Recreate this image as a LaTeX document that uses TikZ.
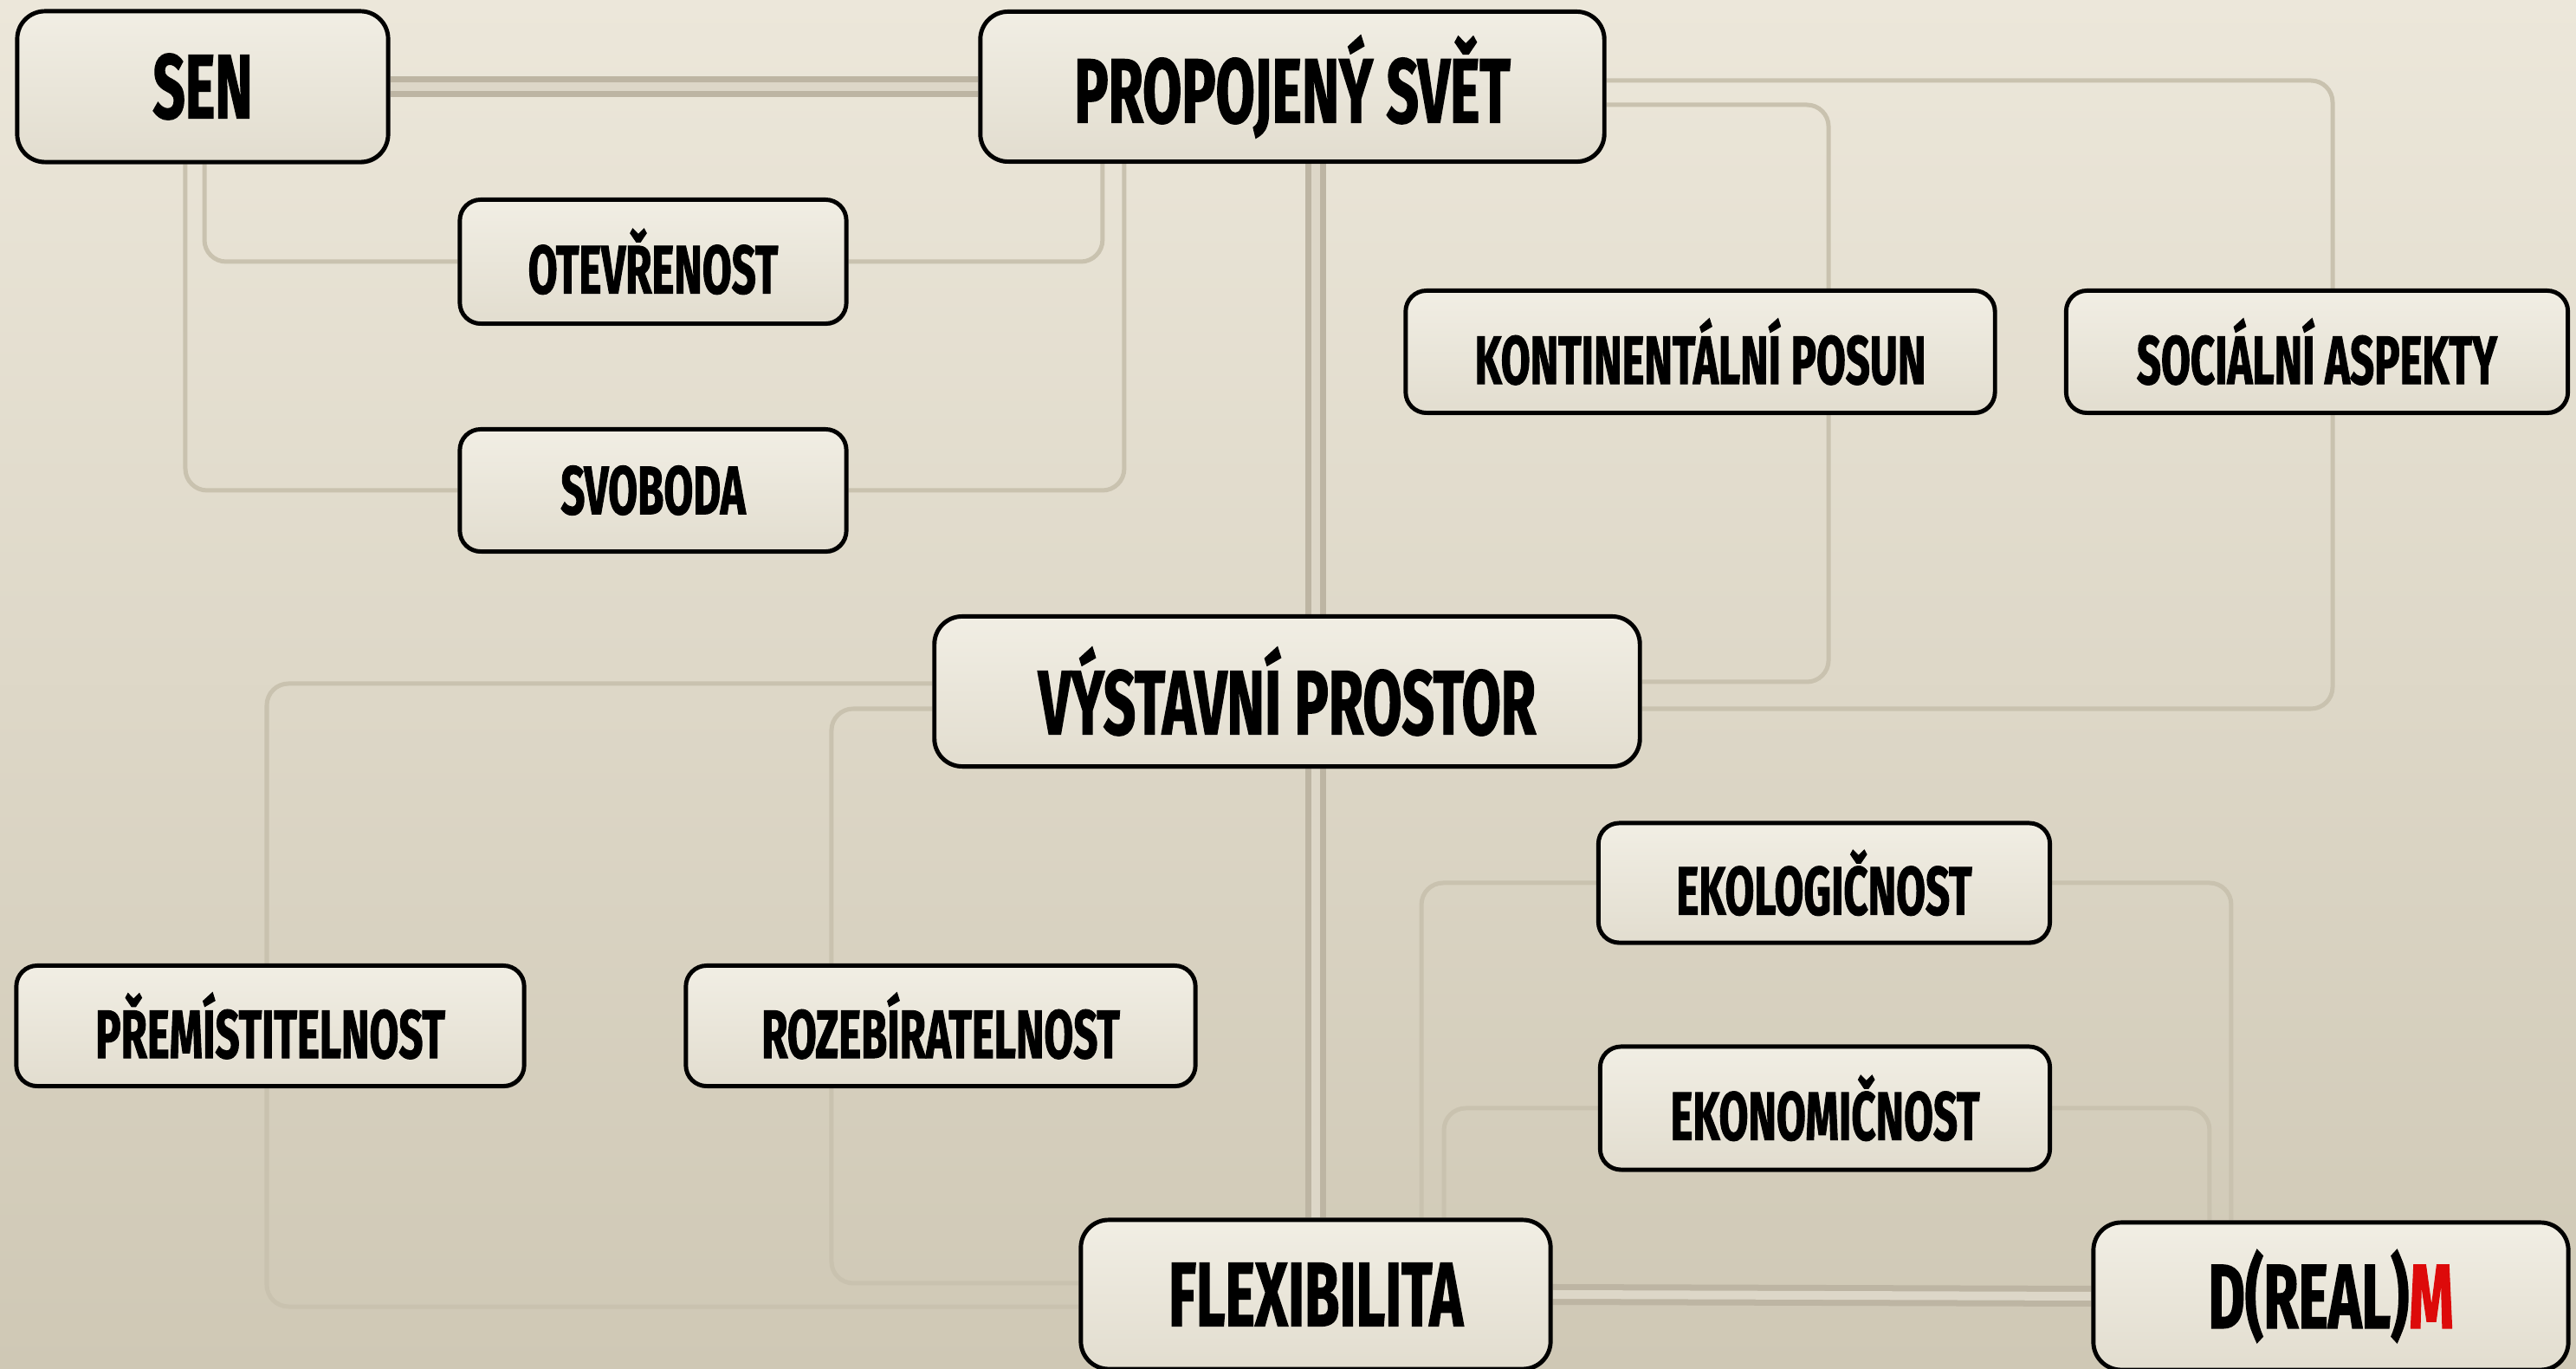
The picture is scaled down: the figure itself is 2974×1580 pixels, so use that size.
\documentclass[tikz,border=0pt]{standalone}
\usepackage{fontspec}
\newfontfamily\lbl{Fira Sans}[FakeStretch=0.62, FakeBold=1.2]
\usetikzlibrary{shadows}
\definecolor{bgtop}{HTML}{ECE7DA}
\definecolor{bgbot}{HTML}{CFC8B5}
\definecolor{boxtop}{HTML}{F1EEE4}
\definecolor{boxbot}{HTML}{E2DDCF}
\definecolor{linec}{HTML}{C9C2AF}
\definecolor{dblc}{HTML}{BDB5A3}
\definecolor{dblin}{HTML}{DDD7C8}
\definecolor{mred}{HTML}{DD0A0A}
\pgfdeclarelayer{bglayer}
\pgfdeclarelayer{linelayer}
\pgfsetlayers{bglayer,linelayer,main}
\begin{document}
\begin{tikzpicture}[x=0.01cm,y=-0.01cm,
  box/.style={draw=black, line width=1.4pt, top color=boxtop, bottom color=boxbot,
    inner sep=0pt, align=center,
    drop shadow={shadow xshift=0.012cm, shadow yshift=-0.025cm, opacity=0.55, fill=black}},
  bigbox/.style={box, rounded corners=0.32cm, font=\lbl\bfseries\fontsize{30}{32}\selectfont},
  smallbox/.style={box, rounded corners=0.24cm, font=\lbl\bfseries\fontsize{22.5}{24}\selectfont},
  conn/.style={draw=linec, line width=0.05cm, rounded corners=0.25cm},
  dbl/.style={draw=dblc, line width=0.07cm, double=dblin, double distance=0.1cm}
]
\useasboundingbox (0,0) rectangle (2974,1580);
\begin{pgfonlayer}{bglayer}
  \shade[top color=bgtop, bottom color=bgbot] (0,0) rectangle (2974,1580);
\end{pgfonlayer}

% main nodes
\node[bigbox, minimum width=4.28cm, minimum height=1.74cm] (SEN) at (234,100) {SEN};
\node[bigbox, minimum width=7.20cm, minimum height=1.73cm] (PROP) at (1492,100) {PROPOJENÝ SVĚT};
\node[bigbox, minimum width=8.14cm, minimum height=1.73cm] (VYST) at (1486,798) {VÝSTAVNÍ PROSTOR};
\node[bigbox, minimum width=5.42cm, minimum height=1.72cm] (FLEX) at (1519,1494) {FLEXIBILITA};
\node[bigbox, minimum width=5.48cm, minimum height=1.70cm] (DREALM) at (2691,1496) {D(REAL)\textcolor{mred}{M}};

% small nodes
\node[smallbox, minimum width=4.46cm, minimum height=1.43cm] (OTEV) at (754,302) {OTEVŘENOST};
\node[smallbox, minimum width=4.46cm, minimum height=1.41cm] (SVOB) at (754,566) {SVOBODA};
\node[smallbox, minimum width=6.80cm, minimum height=1.41cm] (KONT) at (1963,406) {KONTINENTÁLNÍ POSUN};
\node[smallbox, minimum width=5.79cm, minimum height=1.41cm] (SOC) at (2675,406) {SOCIÁLNÍ ASPEKTY};
\node[smallbox, minimum width=5.86cm, minimum height=1.39cm] (PREM) at (312,1184) {PŘEMÍSTITELNOST};
\node[smallbox, minimum width=5.88cm, minimum height=1.39cm] (ROZ) at (1086,1184) {ROZEBÍRATELNOST};
\node[smallbox, minimum width=5.21cm, minimum height=1.38cm] (EKOL) at (2106,1019) {EKOLOGIČNOST};
\node[smallbox, minimum width=5.19cm, minimum height=1.42cm] (EKON) at (2107,1279) {EKONOMIČNOST};

\begin{pgfonlayer}{linelayer}
  % thin connectors
  \draw[conn] ([xshift=0.02cm]SEN.south) |- (OTEV.west);
  \draw[conn] (OTEV.east) -| ([xshift=-2.19cm]PROP.south);
  \draw[conn] ([xshift=-0.2cm]SEN.south) |- (SVOB.west);
  \draw[conn] (SVOB.east) -| ([xshift=-1.94cm]PROP.south);
  \draw[conn] ([yshift=-0.21cm]PROP.east) -| ([xshift=1.48cm]KONT.north);
  \draw[conn] ([xshift=1.48cm]KONT.south) |- ([yshift=0.11cm]VYST.east);
  \draw[conn] ([yshift=0.07cm]PROP.east) -| ([xshift=0.18cm]SOC.north);
  \draw[conn] ([xshift=0.18cm]SOC.south) |- ([yshift=-0.2cm]VYST.east);
  \draw[conn] ([yshift=0.09cm]VYST.west) -| ([xshift=-0.04cm]PREM.north);
  \draw[conn] ([xshift=-0.04cm]PREM.south) |- ([yshift=-0.14cm]FLEX.west);
  \draw[conn] ([yshift=-0.2cm]VYST.west) -| ([xshift=-1.26cm]ROZ.north);
  \draw[conn] ([xshift=-1.26cm]ROZ.south) |- ([yshift=0.13cm]FLEX.west);
  \draw[conn] ([xshift=1.22cm]FLEX.north) |- (EKOL.west);
  \draw[conn] (EKOL.east) -| ([xshift=-1.15cm]DREALM.north);
  \draw[conn] ([xshift=1.48cm]FLEX.north) |- (EKON.west);
  \draw[conn] (EKON.east) -| ([xshift=-1.40cm]DREALM.north);
  % double connectors
  \draw[dbl] (SEN.east) -- (PROP.west);
  \draw[dbl] (PROP.south -| FLEX.north) -- (VYST.north -| FLEX.north);
  \draw[dbl] (VYST.south -| FLEX.north) -- (FLEX.north);
  \draw[dbl] (FLEX.east) -- (DREALM.west);
\end{pgfonlayer}
\end{tikzpicture}
\end{document}
